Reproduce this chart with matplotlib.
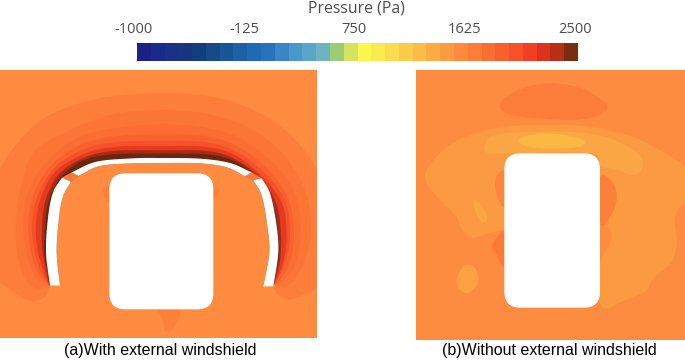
import numpy as np
import matplotlib
matplotlib.use("Agg")
import matplotlib.pyplot as plt
from matplotlib.colors import ListedColormap
from matplotlib.patches import FancyBboxPatch, Polygon

W, H = 685, 360

# ---- data -----------------------------------------------------------------
cbar_colors = ["#1B1F86", "#1A2A8A", "#1B3088", "#19357F", "#123F7C", "#174A88", "#1A5597", "#1C60A5",
               "#2069B5", "#2773BE", "#3A86C5", "#4A98C8", "#5BA6C8", "#6DB4C0", "#9ECB78", "#D6E35E",
               "#FBF74E", "#F9EB4F", "#FBDC4E", "#FCCB49", "#FDBC47", "#FDAC44", "#FD9B40", "#FC8B3C",
               "#FC7D38", "#FB6E33", "#F9602E", "#F65129", "#F23E22", "#DD321B", "#B92E17", "#7A2E10"]
cbar_ticks = [-1000, -125, 750, 1625, 2500]
cbar_title = "Pressure (Pa)"
caption_a = "(a)With external windshield"
caption_b = "(b)Without external windshield"

bg_a = "#FE8B3F"
bg_b = "#FE8C40"

# Panel (a): pressure bands outside the shield, outer to inner
band1 = [(150,660),(135,695),(95,708),(40,680),(-20,620),(-40,450),(-10,330),(60,225),(150,150),(300,100),(480,85),
         (650,98),(790,150),(890,230),(960,340),(975,500),(955,654),(910,690),(865,703),(835,690),(815,660)]
band2 = [(148,662),(125,672),(95,665),(65,620),(48,530),(55,400),(100,264),(200,200),(330,150),(480,135),(630,148),(760,195),
         (860,280),(920,390),(932,510),(905,610),(865,660),(820,662)]
band3 = [(148,662),(110,640),(82,580),(70,480),(85,380),(140,290),(230,220),(340,190),(480,178),(620,188),(730,225),
         (835,310),(890,400),(902,510),(885,600),(850,645),(820,662)]
band4 = [(148,662),(115,625),(92,560),(85,470),(102,385),(155,300),(240,240),(340,215),(480,208),(620,214),(720,248),
         (810,320),(866,405),(882,510),(868,595),(840,645),(820,660)]
band5 = [(148,662),(120,615),(102,550),(96,470),(114,390),(165,308),(245,255),(340,232),(480,228),(620,232),(712,262),
         (800,330),(856,410),(870,510),(856,590),(832,645),(820,660)]
band6 = [(148,662),(128,610),(112,550),(108,470),(125,392),(170,316),(250,268),(340,246),(480,243),(620,246),(708,272),
         (792,340),(846,415),(860,510),(850,590),(828,645),(820,660)]
band7 = [(148,660),(136,605),(127,550),(127,465),(140,395),(178,326),(250,279),(340,258),(480,256),(620,258),(704,282),
         (782,340),(830,418),(843,510),(840,590),(824,650),(820,660)]
band8 = [(150,640),(138,600),(133,550),(136,465),(150,395),(186,332),(252,285),(340,268),(480,266),(620,268),(702,288),
         (774,342),(820,420),(835,510),(837,580),(826,620)]
bands_a = [band1, band2, band3, band4, band5, band6, band7, band8]
band_colors_a = ["#FC7E3A", "#FB7636", "#FA6E33", "#F8622E", "#F5512A", "#E63A1E", "#A82C14", "#6A2610"]

shield_left_outer = [(150,662),(138,560),(145,450),(160,380),(186,338)]
shield_left_inner = [(180,662),(170,560),(178,450),(190,392),(213,350)]
shield_top_outer = [(215,322),(290,290),(400,280),(480,279),(600,281),(690,294),(755,322)]
shield_top_inner = [(235,333),(300,303),(400,295),(480,294),(600,295),(680,307),(735,334)]
shield_right_outer = [(785,340),(810,385),(828,470),(835,560),(820,664)]
shield_right_inner = [(760,346),(785,392),(800,470),(808,560),(790,664)]
gap_left = [(186,338),(215,322),(238,335),(213,350)]
gap_right = [(755,322),(785,340),(760,348),(733,335)]
blobs_a = [[(328,360),(312,368),(312,390),(328,412)],
           [(640,362),(654,372),(652,392),(640,408)],
           [(470,733),(485,755),(492,775),(495,798),(515,795),(530,770),(540,745),(535,733)]]
blob_color_a = "#FC7F3A"

box_a = (328, 325, 640, 733)
box_b = (298, 265, 585, 728)

# Panel (b): pressure regions
top_lobe = [(285,125),(310,90),(380,62),(450,55),(530,70),(590,105),(607,130),(570,155),(500,165),(400,160),(320,150)]
wide_band = [(60,340),(90,280),(160,225),(270,190),(400,180),(550,185),(680,215),(790,270),(850,320),(850,395),
             (810,450),(815,530),(800,590),(745,640),(720,680),(650,710),(590,725),(585,600),(620,520),(610,470),
             (635,400),(620,350),(585,340),(440,420),(300,490),(250,505),(200,518),(170,490),(150,450),(100,400)]
inner_band = [(240,240),(270,210),(400,200),(550,205),(650,235),(710,280),(705,320),(680,330),(640,315),(585,300),
              (560,265),(320,265),(250,265)]
crest = [(340,225),(390,208),(470,208),(535,225),(525,245),(440,250),(370,245)]
side_spot = [(205,410),(220,410),(245,450),(240,472),(220,460)]
low_spot = [(155,640),(180,600),(210,610),(220,650),(195,682),(165,675)]
left_notch = [(300,320),(272,340),(275,390),(300,425)]
right_notch = [(585,338),(620,350),(635,400),(610,465),(585,470)]
lower_notch = [(298,500),(262,540),(275,570),(298,605)]
regions_b = [top_lobe, wide_band, left_notch, right_notch, lower_notch, inner_band, crest, side_spot, low_spot]
region_colors_b = ["#FC7D39", "#FB9A43", "#FC863B", "#FC8039", "#FA7B35", "#FBA645", "#FBB843", "#FBA645", "#FBA043"]

# ---- helpers --------------------------------------------------------------
def smooth(points, closed=True, n=12):
    p = np.asarray(points, float)
    if closed:
        q = np.vstack([p[-1], p, p[0], p[1]])
    else:
        q = np.vstack([2 * p[0] - p[1], p, 2 * p[-1] - p[-2]])
    out = []
    for i in range(1, len(q) - 2):
        t = np.linspace(0, 1, n, endpoint=False)[:, None]
        a, b, c, d = q[i - 1], q[i], q[i + 1], q[i + 2]
        out.append(0.5 * (2 * b + (c - a) * t + (2 * a - 5 * b + 4 * c - d) * t ** 2
                          + (3 * b - a - 3 * c + d) * t ** 3))
    out = np.vstack(out)
    if not closed:
        out = np.vstack([out, p[-1]])
    return out

def strip(outer, inner):
    return np.vstack([smooth(outer, False), smooth(inner, False)[::-1]])

def panel(px0, py0, px1, py1, lim):
    ax = fig.add_axes([px0 / W, 1 - py1 / H, (px1 - px0) / W, (py1 - py0) / H])
    ax.set_xlim(lim[0], lim[1])
    ax.set_ylim(lim[3], lim[2])
    ax.axis("off")
    return ax

def box(ax, b):
    r = 48
    ax.add_patch(FancyBboxPatch((b[0] + r, b[1] + r), b[2] - b[0] - 2 * r, b[3] - b[1] - 2 * r,
                                boxstyle=f"round,pad={r},rounding_size={r}", fc="white", ec="none", zorder=20))

# ---- figure ---------------------------------------------------------------
plt.rcParams["font.family"] = ["Liberation Sans", "DejaVu Sans"]
fig = plt.figure(figsize=(W / 100, H / 100), dpi=100, facecolor="white")

# colour bar
cax = fig.add_axes([137 / W, 1 - 61 / H, 441 / W, 18 / H])
edges = np.linspace(cbar_ticks[0], cbar_ticks[-1], len(cbar_colors) + 1)
cax.pcolormesh(edges, [0, 1], np.arange(len(cbar_colors))[None, :], cmap=ListedColormap(cbar_colors), shading="flat")
cax.set_yticks([])
cax.set_xticks([])
for s in cax.spines.values():
    s.set_visible(False)
for v in cbar_ticks:
    cax.annotate(str(v), (v, 1), xytext=(-2.2, 4.0), textcoords="offset points", ha="center", va="bottom",
                 fontsize=10.5, color="#4d4d4d", family="Open Sans", annotation_clip=False)
fig.text(356 / W, 1 - 8.5 / H, cbar_title, ha="center", va="center", fontsize=11.4, color="#4d4d4d", family="Open Sans")

# panel (a)
axa = panel(0, 70, 317, 338, (0, 951, 15, 819))
axa.add_patch(Polygon([(0, 15), (951, 15), (951, 819), (0, 819)], fc=bg_a, ec="none"))
for k, (b, c) in enumerate(zip(bands_a, band_colors_a)):
    axa.add_patch(Polygon(smooth(b, False), closed=True, fc=c, ec="none", zorder=2 + k * 0.1))
interior = np.vstack([smooth(shield_left_inner, False), smooth(shield_top_inner, False),
                      smooth(shield_right_inner, False), [(790, 668), (180, 668)]])
axa.add_patch(Polygon(interior, closed=True, fc=bg_a, ec="none", zorder=4))
for b in blobs_a:
    axa.add_patch(Polygon(smooth(b, False), closed=True, fc=blob_color_a, ec="none", zorder=5))
for g in (gap_left, gap_right):
    axa.add_patch(Polygon(g, closed=True, fc="#F87A3A", ec="none", zorder=6))
for o, i in ((shield_left_outer, shield_left_inner), (shield_top_outer, shield_top_inner),
             (shield_right_outer, shield_right_inner)):
    axa.add_patch(Polygon(strip(o, i), closed=True, fc="white", ec="none", zorder=7))
box(axa, box_a)

# panel (b)
axb = panel(416, 70, 685, 340, (33, 840, 15, 825))
axb.add_patch(Polygon([(33, 15), (840, 15), (840, 825), (33, 825)], fc=bg_b, ec="none"))
for k, (r, c) in enumerate(zip(regions_b, region_colors_b)):
    axb.add_patch(Polygon(smooth(r), closed=True, fc=c, ec="none", zorder=2 + k * 0.1))
box(axb, box_b)

# captions
fig.text(160 / W, 1 - 351 / H, caption_a, ha="center", va="center", fontsize=11.5, color="black")
fig.text(549.5 / W, 1 - 351 / H, caption_b, ha="center", va="center", fontsize=11.5, color="black")

fig.savefig("out.png", dpi=100, facecolor="white")
